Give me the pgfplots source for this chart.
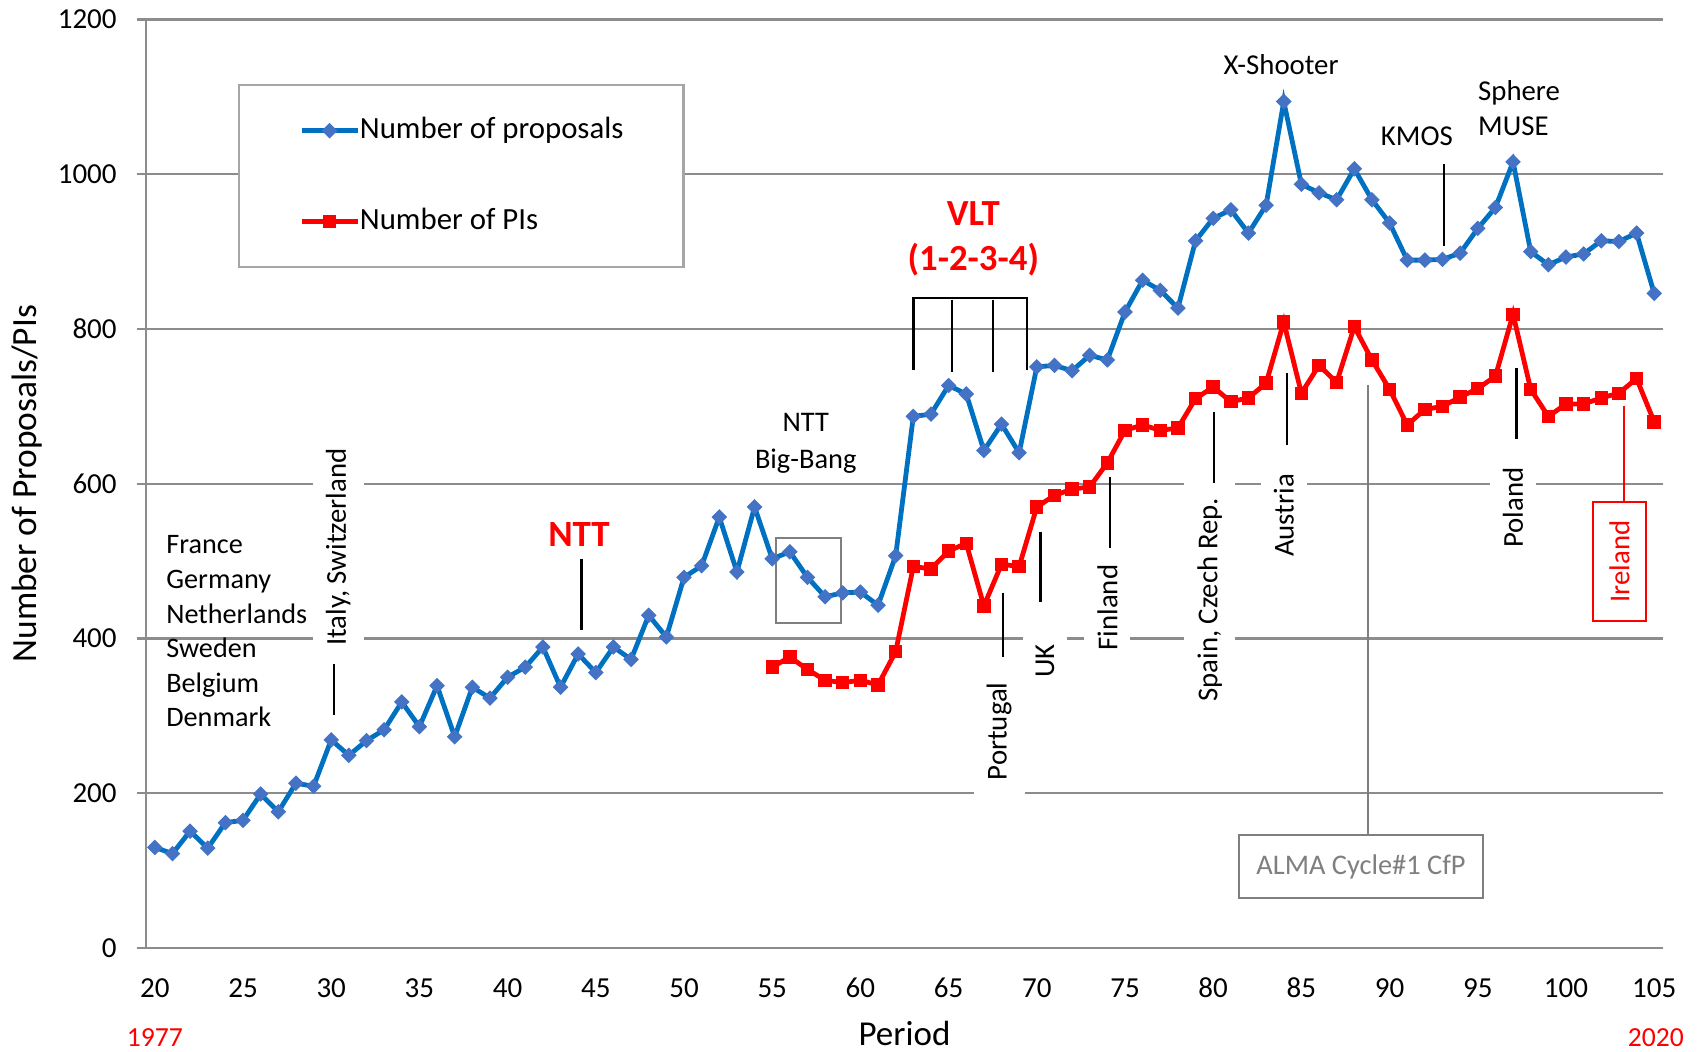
\documentclass[border=0pt]{standalone}
\usepackage{fontspec}
\setmainfont{Carlito}
\usepackage{pgfplots}
\pgfplotsset{compat=1.18}
\definecolor{plblue}{HTML}{0070C0}
\definecolor{mkblue}{HTML}{4472C4}
\definecolor{gridgray}{HTML}{8C8C8C}
\definecolor{boxgray}{HTML}{7F7F7F}
\definecolor{lgdgray}{HTML}{A6A6A6}
\newcommand{\af}{\fontsize{14.4}{17}\selectfont}
\tikzset{rlab/.style={rotate=90, fill=white, inner xsep=9pt, inner ysep=6.5pt, font=\af},
         lw/.style={black, line width=1.2pt}}
\begin{document}
\begin{tikzpicture}
\useasboundingbox (0,0) rectangle (849.5pt,525.5pt);
\begin{axis}[
  at={(73pt,51.5pt)}, anchor=south west,
  scale only axis, width=758.5pt, height=464.25pt,
  xmin=19.5, xmax=105.5, ymin=0, ymax=1200,
  xtick={20,25,...,105}, ytick={0,200,...,1200},
  axis x line*=bottom, axis y line*=left,
  axis line style={draw=gridgray, line width=1.2pt, -},
  ymajorgrids, grid style={draw=gridgray, line width=1.2pt},
  x tick style={draw=none},
  y tick style={draw=gridgray, line width=1.2pt},
  tick align=outside, major tick length=4.5pt,
  tick label style={font=\fontsize{14.5}{17}\selectfont},
  /pgf/number format/assume math mode=true,
  /pgf/number format/set thousands separator={},
  yticklabel style={anchor=east, inner sep=0pt, xshift=-10pt},
  xticklabel style={anchor=base, inner sep=0pt, yshift=-20pt},
  clip=false,
  xlabel={Period}, ylabel={Number of Proposals/PIs},
  xlabel style={at={(axis description cs:0.5,-0.092)}, anchor=center, inner sep=0pt, font=\fontsize{17.5}{20}\selectfont},
  ylabel style={at={(axis description cs:-0.0784,0.5)}, anchor=center, inner sep=0pt, font=\fontsize{17.7}{20}\selectfont},
  legend style={at={(0.0606,0.9305)}, anchor=north west, draw=lgdgray, line width=1.2pt, fill=white,
    font=\fontsize{15.4}{18}\selectfont, inner xsep=30pt, inner ysep=16pt, row sep=32pt,
    nodes={inner sep=0pt, text height=10.5pt, text depth=3pt}},
  legend cell align=left,
  legend image code/.code={\draw[mark repeat=2,mark phase=2] plot coordinates {(0pt,0pt)(14pt,0pt)(28pt,0pt)};},
]
\addplot[color=plblue, line width=2.4pt, mark=square*, mark size=2.5pt,
  mark options={rotate=45, fill=mkblue, draw=mkblue, line width=0.5pt}] coordinates {
(20,130)(21,122)(22,151)(23,129)(24,162)(25,165)(26,199)(27,176)(28,213)(29,209)
(30,269)(31,249)(32,268)(33,282)(34,318)(35,286)(36,339)(37,273)(38,337)(39,323)
(40,350)(41,363)(42,389)(43,337)(44,380)(45,356)(46,389)(47,373)(48,430)(49,402)
(50,479)(51,494)(52,557)(53,486)(54,570)(55,503)(56,512)(57,479)(58,454)(59,459)
(60,460)(61,443)(62,507)(63,687)(64,690)(65,727)(66,716)(67,643)(68,677)(69,640)
(70,751)(71,753)(72,746)(73,766)(74,760)(75,822)(76,863)(77,850)(78,827)(79,914)
(80,943)(81,954)(82,924)(83,960)(84,1094)(85,987)(86,976)(87,967)(88,1007)(89,967)
(90,937)(91,889)(92,889)(93,890)(94,898)(95,930)(96,957)(97,1016)(98,900)(99,883)
(100,893)(101,897)(102,914)(103,913)(104,924)(105,846)};
\addlegendentry{Number of proposals}
\addplot[color=red, line width=2.4pt, mark=square*, mark size=3.1pt,
  mark options={fill=red, draw=red, line width=0.5pt}] coordinates {
(55,363)(56,376)(57,360)(58,346)(59,343)(60,346)(61,340)(62,383)(63,493)(64,490)
(65,513)(66,523)(67,442)(68,496)(69,493)(70,570)(71,585)(72,593)(73,596)(74,627)
(75,669)(76,676)(77,669)(78,672)(79,710)(80,725)(81,706)(82,711)(83,730)(84,809)
(85,717)(86,753)(87,731)(88,803)(89,760)(90,722)(91,676)(92,696)(93,700)(94,712)
(95,723)(96,739)(97,819)(98,722)(99,687)(100,703)(101,703)(102,711)(103,717)(104,736)
(105,680)};
\addlegendentry{Number of PIs}
% annotations
\node[anchor=west, align=left, inner sep=0pt, font=\fontsize{14.1}{17.3}\selectfont] at (20.63,409)
  {France\\Germany\\Netherlands\\Sweden\\Belgium\\Denmark};
\node[rlab] at (30.4,518) {Italy, Switzerland};
\draw[lw] (30.16,367) -- (30.16,301);
\node[font=\bfseries\fontsize{18.5}{22}\selectfont, text=red] at (44.05,535) {NTT};
\draw[lw] (44.2,503) -- (44.2,411);
\node[font=\fontsize{14.2}{18.6}\selectfont, align=center] at (56.9,652) {NTT\\Big-Bang};
\draw[boxgray, line width=1pt] (55.2,420) rectangle (58.9,530);
\node[font=\bfseries\fontsize{18.4}{22.5}\selectfont, text=red, align=center] at (66.4,916) {VLT\\(1-2-3-4)};
\draw[lw] (63.0,747) -- (63.0,840) -- (69.46,840) -- (69.46,747);
\draw[lw] (65.2,838) -- (65.2,745);
\draw[lw] (67.53,838) -- (67.53,745);
\node[rlab] at (67.86,280) {Portugal};
\draw[lw] (68.1,459) -- (68.1,376);
\node[rlab] at (70.46,371) {UK};
\draw[lw] (70.2,538) -- (70.2,447);
\node[rlab] at (74.0,440) {Finland};
\draw[lw] (74.15,609) -- (74.15,517);
\node[rlab] at (79.8,450) {Spain, Czech Rep.};
\draw[lw] (80.05,693) -- (80.05,601);
\node[rlab] at (84.0,559) {Austria};
\draw[lw] (84.2,743) -- (84.2,650);
\node[rlab] at (97.0,569) {Poland};
\draw[lw] (97.2,750) -- (97.2,658);
\draw[red, line width=1pt] (103.3,700) -- (103.3,576);
\node[rotate=90, draw=red, line width=1.2pt, fill=white, text=red, font=\af,
  minimum width=59.5pt, minimum height=26.5pt] at (103.03,499.5) {Ireland};
\node[font=\af] at (83.85,1142) {X-Shooter};
\node[font=\af] at (91.55,1049) {KMOS};
\draw[lw] (93.08,1013) -- (93.08,907);
\node[anchor=west, align=left, inner sep=0pt, font=\fontsize{14.4}{17.5}\selectfont] at (95.0,1086) {Sphere\\MUSE};
\draw[boxgray, line width=1.2pt] (88.77,728) -- (88.77,146);
\node[draw=boxgray, line width=1pt, fill=white, text=boxgray, font=\fontsize{14.2}{17}\selectfont,
  minimum width=122pt, minimum height=31.5pt] at (88.38,105) {ALMA Cycle\#1 CfP};
\node[text=red, inner sep=0pt, font=\fontsize{13.8}{16}\selectfont] at (20,-116) {1977};
\node[text=red, inner sep=0pt, font=\fontsize{13.8}{16}\selectfont] at (105.1,-116) {2020};
\end{axis}
\end{tikzpicture}
\end{document}
